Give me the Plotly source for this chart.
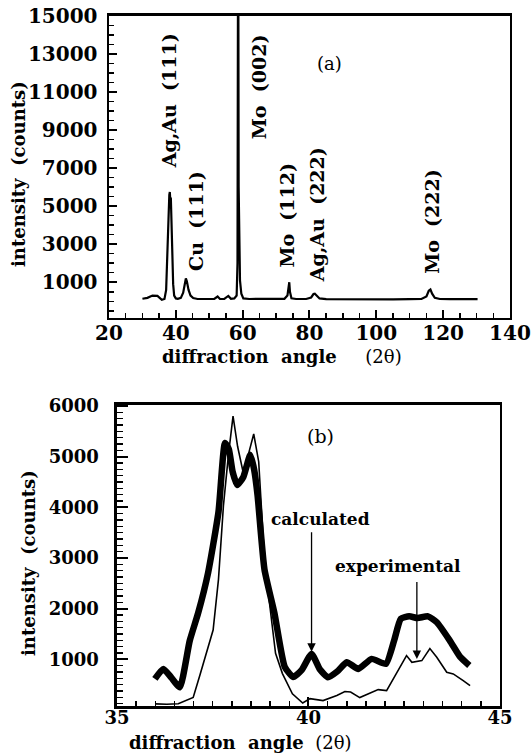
import plotly.graph_objects as go

# ---------------- panel (a): full XRD pattern ----------------
angle_a = [30.0, 31.5, 33.0, 34.5, 35.8, 36.6, 37.1, 37.5, 37.8, 38.05, 38.2, 38.35, 38.5, 38.7, 38.9,
           39.2, 39.5, 40.0, 40.6, 41.5, 42.2, 42.7, 43.0, 43.3, 43.8, 44.4, 45.2, 46.5, 48.0, 50.0,
           51.5, 52.5, 53.2, 54.5, 55.7, 56.5, 57.5, 58.2, 58.45, 58.6, 58.7, 58.8, 58.95, 59.2, 59.6,
           60.2, 62.0, 66.0, 70.0, 72.5, 73.4, 73.8, 73.95, 74.15, 74.6, 76.0, 79.0, 80.5, 81.2, 81.6,
           82.1, 83.0, 85.0, 90.0, 95.0, 100.0, 105.0, 110.0, 113.5, 115.0, 115.7, 116.2, 116.7, 117.5,
           119.0, 122.0, 126.0, 130.3]
counts_a = [130, 180, 300, 280, 80, 120, 600, 2200, 4300, 5600, 5750, 5300, 5450, 4200, 2600,
            900, 300, 150, 130, 180, 450, 950, 1200, 1050, 600, 300, 170, 120, 110, 110,
            120, 250, 120, 130, 280, 130, 150, 300, 2000, 17000, 17000, 6000, 2500, 1100, 400,
            150, 120, 110, 110, 130, 300, 900, 1000, 500, 160, 120, 120, 200, 380, 400,
            300, 150, 110, 100, 110, 100, 100, 110, 120, 250, 550, 620, 400, 180,
            120, 110, 110, 110]

peak_labels = ["Ag,Au  (111)", "Cu  (111)", "Mo  (002)", "Mo  (112)", "Ag,Au  (222)", "Mo  (222)"]
peak_label_x = [37.8, 46.2, 64.7, 73.4, 82.1, 116.6]
peak_label_y = [10540, 4200, 11280, 4530, 4550, 4220]

ticks_a_x = [20, 40, 60, 80, 100, 120, 140]
ticks_a_y = [1000, 3000, 5000, 7000, 9000, 11000, 13000, 15000]
ticks_a_y_text = ["1000", "3000", "5000", "7000", "9000", "11000", "13000", "15000"]

# ---------------- panel (b): zoom 35-45 degrees ----------------
calc_angle = [35.99, 36.21, 36.42, 36.64, 36.9, 37.12, 37.38, 37.65, 37.82, 37.92, 38.02, 38.14, 38.3,
              38.48, 38.58, 38.67, 38.85, 39.11, 39.38, 39.6, 39.82, 40.08, 40.3, 40.51, 40.75, 41.0,
              41.3, 41.65, 42.02, 42.24, 42.41, 42.63, 42.85, 43.12, 43.35, 43.69, 43.96, 44.2]
calc_counts = [615, 812, 640, 450, 1370, 1916, 2713, 3908, 5269, 5150, 4700, 4440, 4600,
               5036, 4750, 4240, 2779, 1916, 853, 654, 787, 1108, 800, 647, 760, 943,
               812, 1010, 911, 1384, 1800, 1849, 1816, 1849, 1732, 1371, 1050, 880]

exp_angle = [36.0, 36.3, 36.6, 36.82, 36.99, 37.17, 37.34, 37.51, 37.65, 37.78, 37.91, 38.03, 38.15,
             38.31, 38.45, 38.57, 38.7, 38.83, 38.96, 39.14, 39.32, 39.58, 39.85, 40.04, 40.38, 40.74,
             40.95, 41.1, 41.34, 41.6, 41.82, 42.04, 42.3, 42.56, 42.7, 42.96, 43.17, 43.35, 43.61,
             43.78, 44.04, 44.22]
exp_counts = [122, 115, 125, 190, 250, 700, 1120, 1580, 2580, 4040, 5036, 5800, 5200,
              4637, 5100, 5448, 4900, 3243, 2250, 1119, 720, 322, 140, 226, 187, 286,
              365, 355, 246, 325, 404, 385, 720, 1075, 943, 976, 1213, 1041, 745,
              714, 582, 483]

ticks_b_x = [35, 40, 45]
ticks_b_y = [1000, 2000, 3000, 4000, 5000, 6000]
ticks_b_y_text = ["1000", "2000", "3000", "4000", "5000", "6000"]

BOLD = dict(family="DejaVu Serif", color="black", weight="bold")

fig = go.Figure()
fig.add_trace(go.Scatter(x=angle_a, y=counts_a, mode="lines",
                         line=dict(color="black", width=2.2), xaxis="x", yaxis="y", showlegend=False))
fig.add_trace(go.Scatter(x=calc_angle, y=calc_counts, mode="lines", name="calculated",
                         line=dict(color="black", width=6.5, shape="spline", smoothing=0.5),
                         xaxis="x2", yaxis="y2", showlegend=False))
fig.add_trace(go.Scatter(x=exp_angle, y=exp_counts, mode="lines", name="experimental",
                         line=dict(color="black", width=1.6), xaxis="x2", yaxis="y2", showlegend=False))

axis_common = dict(showgrid=False, zeroline=False, showline=True, linecolor="black", mirror=True,
                   ticks="inside", tickcolor="black", automargin=False)

fig.update_layout(
    width=532, height=753, margin=dict(l=0, r=0, t=0, b=0, pad=0),
    paper_bgcolor="white", plot_bgcolor="white",
    xaxis=dict(domain=[0.2049, 0.9586], range=[20, 140], tickvals=ticks_a_x, anchor="y",
               linewidth=2.5, ticklen=8, tickwidth=2, tickfont=dict(size=20, **BOLD),
               ticklabelstandoff=-4,
               minor=dict(dtick=5, ticks="inside", ticklen=5, tickwidth=1.5, tickcolor="black"),
               **axis_common),
    yaxis=dict(domain=[0.5777, 0.9794], range=[-880, 15030], tickvals=ticks_a_y,
               ticktext=ticks_a_y_text, anchor="x",
               linewidth=2.5, ticklen=8, tickwidth=2, tickfont=dict(size=20, **BOLD),
               ticklabelstandoff=5,
               minor=dict(dtick=500, tick0=0, ticks="inside", ticklen=5, tickwidth=1.5, tickcolor="black"),
               **axis_common),
    xaxis2=dict(domain=[0.2199, 0.9398], range=[35, 45], tickvals=ticks_b_x, anchor="y2",
                linewidth=2.5, ticklen=9, tickwidth=2, tickfont=dict(size=18, **BOLD),
                ticklabelstandoff=-6,
                minor=dict(dtick=0.5, ticks="inside", ticklen=5, tickwidth=1.5, tickcolor="black"),
                **axis_common),
    yaxis2=dict(domain=[0.0624, 0.4622], range=[80, 6020], tickvals=ticks_b_y,
                ticktext=ticks_b_y_text, anchor="x2",
                linewidth=2.5, ticklen=11, tickwidth=2, tickfont=dict(size=18, **BOLD),
                ticklabelstandoff=12,
                minor=dict(dtick=125, tick0=0, ticks="inside", ticklen=6, tickwidth=1.5, tickcolor="black"),
                **axis_common),
)

annotations = []
for txt, lx, ly in zip(peak_labels, peak_label_x, peak_label_y):
    annotations.append(dict(text=txt, x=lx, y=ly, xref="x", yref="y", textangle=-90, showarrow=False,
                            font=dict(size=19, **BOLD), xanchor="center", yanchor="middle"))
annotations.append(dict(text="(a)", x=86.1, y=12530, xref="x", yref="y", showarrow=False,
                        xanchor="center", yanchor="middle",
                        font=dict(size=18, family="DejaVu Serif", color="black")))
annotations.append(dict(text="(b)", x=40.32, y=5414, xref="x2", yref="y2", showarrow=False,
                        xanchor="center", yanchor="middle",
                        font=dict(size=19, family="DejaVu Serif", color="black")))
annotations.append(dict(text="calculated", x=40.32, y=3771, xref="x2", yref="y2", showarrow=False,
                        xanchor="center", yanchor="middle", font=dict(size=17, **BOLD)))
annotations.append(dict(text="experimental", x=42.35, y=2850, xref="x2", yref="y2", showarrow=False,
                        xanchor="center", yanchor="middle", font=dict(size=17, **BOLD)))
# arrows
annotations.append(dict(text="", x=40.08, y=1150, ax=40.08, ay=3540, xref="x2", yref="y2",
                        axref="x2", ayref="y2", showarrow=True, arrowhead=2, arrowsize=1.3,
                        arrowwidth=1.3, arrowcolor="black"))
annotations.append(dict(text="", x=42.83, y=1010, ax=42.83, ay=2554, xref="x2", yref="y2",
                        axref="x2", ayref="y2", showarrow=True, arrowhead=2, arrowsize=1.3,
                        arrowwidth=1.3, arrowcolor="black"))
# axis titles
TITLE_FONT = dict(size=18, family="DejaVu Serif", color="black")
annotations.append(dict(text="<b>diffraction  angle</b>     (2θ)", x=282 / 532, y=1 - 356 / 753,
                        xref="paper", yref="paper", showarrow=False, xanchor="center", yanchor="middle",
                        font=TITLE_FONT))
annotations.append(dict(text="<b>intensity  (counts)</b>", x=18 / 532, y=1 - 174 / 753,
                        xref="paper", yref="paper", showarrow=False, textangle=-90,
                        xanchor="center", yanchor="middle", font=TITLE_FONT))
annotations.append(dict(text="<b>diffraction  angle</b>  (2θ)", x=240 / 532, y=1 - 742 / 753,
                        xref="paper", yref="paper", showarrow=False, xanchor="center", yanchor="middle",
                        font=TITLE_FONT))
annotations.append(dict(text="<b>intensity  (counts)</b>", x=28 / 532, y=1 - 563 / 753,
                        xref="paper", yref="paper", showarrow=False, textangle=-90,
                        xanchor="center", yanchor="middle", font=TITLE_FONT))
fig.update_layout(annotations=annotations)

fig.write_html("out.html", config={"displayModeBar": False, "staticPlot": True},
               post_script="document.body.style.margin='0px';")
